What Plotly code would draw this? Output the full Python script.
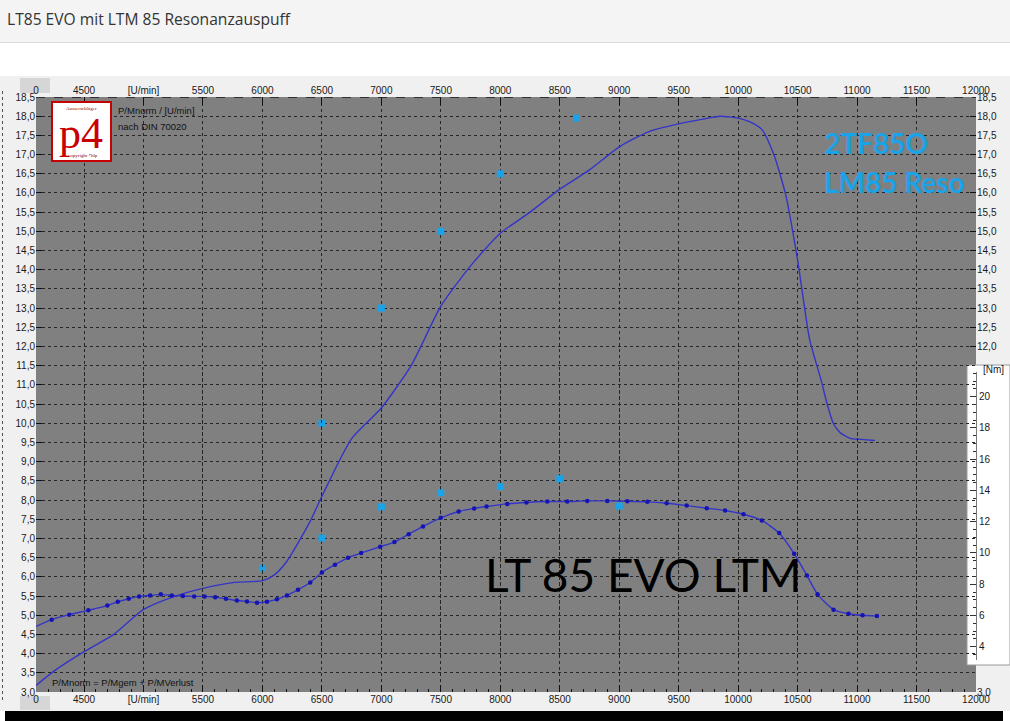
import plotly.graph_objects as go

# ---------------- data ----------------
power_rpm = [4096, 4250, 4500, 4750, 5000, 5250, 5500, 5750, 6000, 6100, 6204, 6400, 6500,
             6750, 7000, 7250, 7500, 7750, 8000, 8250, 8500, 8750, 9000, 9250, 9500, 9750,
             9850, 10000, 10100, 10200, 10300, 10400, 10500, 10600, 10700, 10740, 10800,
             10860, 10950, 11030, 11150]
power_ps = [3.17, 3.55, 4.05, 4.5, 5.15, 5.48, 5.7, 5.85, 5.9, 6.05, 6.4, 7.44, 8.1,
            9.6, 10.4, 11.5, 13.05, 14.1, 14.95, 15.5, 16.1, 16.6, 17.2, 17.6, 17.8, 17.95,
            18.0, 17.95, 17.85, 17.65, 17.0, 15.95, 14.25, 12.2, 11.1, 10.6, 10.0,
            9.75, 9.6, 9.58, 9.55]

torque_rpm = [4096, 4228, 4376, 4536, 4696, 4784, 4876, 4963, 5056, 5145,
              5238, 5331, 5426, 5513, 5603, 5693, 5785, 5870, 5954, 6038,
              6122, 6206, 6299, 6402, 6500, 6610, 6720, 6830, 6990, 7110,
              7230, 7350, 7500, 7650, 7780, 7884, 8058, 8220, 8395, 8563,
              8731, 8900, 9068, 9237, 9399, 9567, 9736, 9890, 10045, 10199,
              10345, 10471, 10578, 10668, 10802, 10928, 11046, 11167]
torque_nm = [5.30, 5.73, 6.05, 6.33, 6.63, 6.88, 7.07, 7.22, 7.28, 7.35,
             7.28, 7.24, 7.22, 7.22, 7.16, 7.07, 6.96, 6.90, 6.82, 6.88,
             7.03, 7.28, 7.65, 8.11, 8.75, 9.25, 9.7, 10.0, 10.4, 10.7,
             11.2, 11.7, 12.25, 12.65, 12.85, 12.97, 13.14, 13.23, 13.29, 13.29,
             13.33, 13.33, 13.31, 13.27, 13.18, 13.03, 12.86, 12.72, 12.48, 12.08,
             11.27, 9.95, 8.56, 7.35, 6.37, 6.11, 6.01, 5.96]

ref_power_rpm = [6000, 6500, 7000, 7500, 8000, 8640]
ref_power_ps = [6.23, 10.0, 13.0, 15.0, 16.5, 17.95]
ref_torque_rpm = [6500, 7000, 7500, 8000, 8500, 9000]
ref_torque_nm = [10.95, 12.95, 13.85, 14.25, 14.75, 13.0]

x_tickvals = [4096, 4500, 5000, 5500, 6000, 6500, 7000, 7500, 8000, 8500, 9000,
              9500, 10000, 10500, 11000, 11500, 12000]
x_ticktext = ["0", "4500", "[U/min]", "5500", "6000", "6500", "7000", "7500", "8000",
              "8500", "9000", "9500", "10000", "10500", "11000", "11500", "12000"]
y_tickvals = [3.0, 3.5, 4.0, 4.5, 5.0, 5.5, 6.0, 6.5, 7.0, 7.5, 8.0, 8.5, 9.0, 9.5,
              10.0, 10.5, 11.0, 11.5, 12.0, 12.5, 13.0, 13.5, 14.0, 14.5, 15.0, 15.5,
              16.0, 16.5, 17.0, 17.5, 18.0, 18.5]
y_right_tickvals = [3.0, 12.0, 12.5, 13.0, 13.5, 14.0, 14.5, 15.0, 15.5, 16.0, 16.5,
                    17.0, 17.5, 18.0, 18.5]
nm_tickvals = [4, 6, 8, 10, 12, 14, 16, 18, 20]


def comma(v):
    return f"{v:.1f}".replace(".", ",")


# ---------------- geometry ----------------
W, H = 1010, 721
L, R, T, B = 36, 34, 97, 29
PW, PH = W - L - R, H - T - B


def fx(px):
    return (px - L) / PW


def fy(py):
    return (H - B - py) / PH


LINE = "#3434c8"
DOT = "#1414b4"
CYAN = "#1aa3e8"
GRID = "#262626"
TICKF = dict(family="Liberation Sans, Arial", size=10, color="#1a1a1a")

fig = go.Figure()
fig.add_trace(go.Scatter(x=power_rpm, y=power_ps, mode="lines",
                         line=dict(color=LINE, width=1.4, shape="spline", smoothing=0.6),
                         xaxis="x", yaxis="y", hoverinfo="skip", showlegend=False))
fig.add_trace(go.Scatter(x=torque_rpm, y=torque_nm, mode="lines",
                         line=dict(color=LINE, width=1.4, shape="spline", smoothing=0.6),
                         xaxis="x", yaxis="y2", hoverinfo="skip", showlegend=False))
fig.add_trace(go.Scatter(x=torque_rpm[1:], y=torque_nm[1:], mode="markers",
                         marker=dict(color=DOT, size=4.5),
                         xaxis="x", yaxis="y2", hoverinfo="skip", showlegend=False))
fig.add_trace(go.Scatter(x=ref_power_rpm, y=ref_power_ps, mode="markers",
                         marker=dict(color=CYAN, size=7, symbol="square"),
                         xaxis="x", yaxis="y", hoverinfo="skip", showlegend=False))
fig.add_trace(go.Scatter(x=ref_torque_rpm, y=ref_torque_nm, mode="markers",
                         marker=dict(color=CYAN, size=7, symbol="square"),
                         xaxis="x", yaxis="y2", hoverinfo="skip", showlegend=False))
# helper trace so the mirrored top / right axes are drawn
fig.add_trace(go.Scatter(x=[4500], y=[3.0], mode="markers", marker=dict(opacity=0),
                         xaxis="x2", yaxis="y3", hoverinfo="skip", showlegend=False))

shapes = []


def rect(x0, y0, x1, y1, fill, line=None, lw=0, layer="below"):
    shapes.append(dict(type="rect", xref="paper", yref="paper",
                       x0=fx(x0), x1=fx(x1), y0=fy(y1), y1=fy(y0),
                       fillcolor=fill, line=dict(color=line or fill, width=lw), layer=layer))


rect(0, 0, W, 42, "#f4f4f4")
shapes.append(dict(type="line", xref="paper", yref="paper", x0=fx(0), x1=fx(W),
                   y0=fy(42.5), y1=fy(42.5), line=dict(color="#dcdcdc", width=1), layer="below"))
rect(0, 76, W, 711, "#f0f0f0")
rect(L, T, W - R, H - B, "#808080")
rect(20, 78, 50, 93, "#d6d6d6")
rect(20, 696, 50, 710, "#d6d6d6")
shapes.append(dict(type="line", xref="paper", yref="paper", x0=fx(2.5), x1=fx(2.5),
                   y0=fy(700), y1=fy(90), line=dict(color="#505050", width=1, dash="dot"),
                   layer="below"))
shapes.append(dict(type="line", xref="paper", yref="paper", x0=fx(L), x1=fx(W - R),
                   y0=fy(97.5), y1=fy(97.5), line=dict(color="#303030", width=1, dash="dash"),
                   layer="below"))
rect(967, 365, W, 665, "#ffffff", line="#9a9a9a", lw=1)
rect(5, 711, 1003, 721, "#000000")
rect(52, 102, 111, 161, "#ffffff", line="#c40000", lw=2, layer="above")

ann = []


def text(t, x, y, size, color="#111", family="Liberation Sans, Arial", xanchor="left",
         bold=False):
    ann.append(dict(text=f"<b>{t}</b>" if bold else t, xref="paper", yref="paper",
                    x=fx(x), y=fy(y), xanchor=xanchor, yanchor="middle", showarrow=False,
                    borderpad=0, font=dict(size=size, color=color, family=family)))


text("LT85 EVO mit LTM 85 Resonanzauspuff", 6, 19, 15.6, "#333333", "Open Sans")
text("P/Mnorm / [U/min]", 117, 110, 9.5)
text("nach DIN 70020", 117, 126, 9.5)
text("P/Mnorm = P/Mgem + P/MVerlust", 51, 682, 9.5)
text("Ausserschläger", 81.5, 108, 5, "#8b0000", "Liberation Serif", "center")
text("p4", 81, 133, 44, "#c80000", "Liberation Serif", "center")
text("copyright *hlp", 83, 155, 5, "#8b0000", "Liberation Serif", "center")
text("2TF85O", 823, 143, 28, CYAN, "Lato", bold=True)
text("LM85 Reso", 823, 182, 28, CYAN, "Lato", bold=True)
text("LT 85 EVO LTM", 484, 574, 46, "#000000", "Lato")
text("[Nm]", 982, 369, 10, "#1a1a1a")

fig.update_layout(
    width=W, height=H, autosize=False,
    margin=dict(l=L, r=R, t=T, b=B, pad=0),
    paper_bgcolor="#ffffff", plot_bgcolor="rgba(0,0,0,0)",
    showlegend=False,
    xaxis=dict(range=[4096, 12000], domain=[0, 1], anchor="y",
               tickmode="array", tickvals=x_tickvals, ticktext=x_ticktext,
               ticks="inside", ticklen=7, tickcolor="#111111", tickfont=TICKF,
               showgrid=True, gridcolor=GRID, griddash="dot", gridwidth=1,
               zeroline=False, showline=False,
               minor=dict(tickmode="linear", tick0=4000, dtick=100, ticks="inside",
                          ticklen=3, tickcolor="#111111", showgrid=False)),
    xaxis2=dict(range=[4096, 12000], overlaying="x", side="top", anchor="y",
                tickmode="array", tickvals=x_tickvals, ticktext=x_ticktext,
                ticks="inside", ticklen=8, tickcolor="#111111", tickfont=TICKF,
                showgrid=False, zeroline=False, showline=False),
    yaxis=dict(range=[3.0, 18.5], domain=[0, 1], anchor="x", side="left",
               tickmode="array", tickvals=y_tickvals,
               ticktext=[comma(v) for v in y_tickvals],
               ticks="inside", ticklen=6, tickcolor="#111111", tickfont=TICKF,
               showgrid=True, gridcolor=GRID, griddash="dot", gridwidth=1,
               zeroline=False, showline=False),
    yaxis3=dict(range=[3.0, 18.5], overlaying="y", side="right", anchor="x",
                tickmode="array", tickvals=y_right_tickvals,
                ticktext=[comma(v) for v in y_right_tickvals],
                ticks="inside", ticklen=6, tickcolor="#111111", tickfont=TICKF,
                showgrid=False, zeroline=False, showline=False),
    yaxis2=dict(domain=[fy(660), fy(372)], range=[3.15, 21.58], anchor="x", side="right",
                tickmode="array", tickvals=nm_tickvals,
                ticktext=[str(v) for v in nm_tickvals],
                ticks="inside", ticklen=6, tickcolor="#333333", tickfont=TICKF,
                minor=dict(tickmode="linear", tick0=0, dtick=0.5, ticks="inside",
                           ticklen=3, tickcolor="#333333", showgrid=False),
                showgrid=False, zeroline=False, showline=True, linecolor="#777777",
                linewidth=1),
    shapes=shapes,
    annotations=ann,
)

fig.write_html("out.html", config={"displayModeBar": False},
               post_script="document.body.style.margin='0';")
